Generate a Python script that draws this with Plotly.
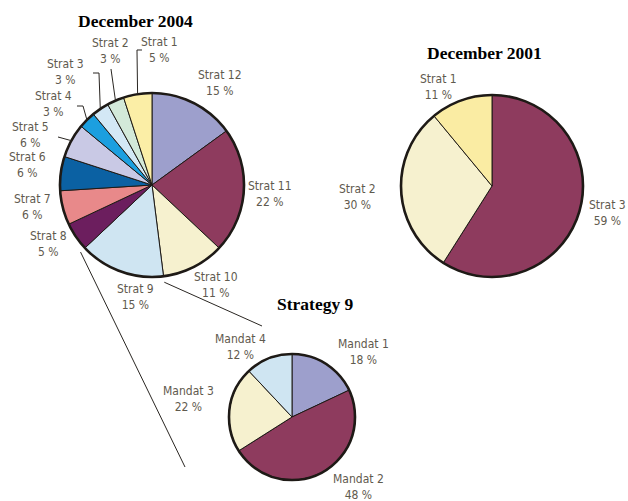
import math
import plotly.graph_objects as go

W, H = 628, 501

# ---- data -------------------------------------------------------------
strat_2004 = ["Strat 1", "Strat 2", "Strat 3", "Strat 4", "Strat 5", "Strat 6",
              "Strat 7", "Strat 8", "Strat 9", "Strat 10", "Strat 11", "Strat 12"]
share_2004 = [5, 3, 3, 3, 6, 6, 6, 5, 15, 11, 22, 15]

strat_2001 = ["Strat 1", "Strat 2", "Strat 3"]
share_2001 = [11, 30, 59]

mandates_s9 = ["Mandat 1", "Mandat 2", "Mandat 3", "Mandat 4"]
share_s9 = [18, 48, 22, 12]

# ---- styles -----------------------------------------------------------
colors_2004 = ["#fbeea6", "#d3e9d9", "#d3e8f5", "#1c9fdf", "#c9c9e5", "#0b61a3",
               "#e8898a", "#6c1e5e", "#cfe5f2", "#f6f1cf", "#8e3b5e", "#9d9fcc"]
colors_2001 = ["#faeca3", "#f6f1cf", "#8e3b5e"]
colors_s9 = ["#9d9fcc", "#8e3b5e", "#f6f1cf", "#cfe5f2"]

LABEL_FONT = dict(family="DejaVu Sans Condensed, Liberation Sans Narrow, Arial Narrow, sans-serif",
                  size=12, color="#5f5a4e")
TITLE_FONT = dict(family="Liberation Serif, Times New Roman, serif", size=17.5, color="#000000")
EDGE = "#1e1a16"
LINE_GAP = 13

# pie geometry in pixels: centre x, centre y, radius; "ccw" pies run
# counter-clockwise from 12 o'clock in list order
geom = {
    "2004": dict(cx=152, cy=185, r=92, ccw=True),
    "2001": dict(cx=492, cy=186, r=91, ccw=True),
    "s9": dict(cx=292, cy=417, r=63, ccw=False),
}

# label anchors (centre x, first-line y), in pixels
label_pos = {
    "2004": [(159, 43), (110, 45), (65, 66), (53, 97), (30, 128), (28, 159),
             (32, 201), (48, 237), (135, 290), (216, 278), (270, 188), (220, 76)],
    "2001": [(438, 80), (357, 190), (627, 206)],
    "s9": [(363, 345), (358, 480), (188, 392), (240, 340)],
}
label_anchor = {("2001", 2): "right"}

titles = [("December 2004", 135, 21), ("December 2001", 484, 53), ("Strategy 9", 315, 304)]

# elbow points of the leader lines for the small 2004 slices (index -> points)
leaders_2004 = {
    0: [(137, 50), (142, 50)],
    1: [(111, 69)],
    2: [(99, 73), (93, 73)],
    3: [(83, 106), (77, 106)],
    4: [(58, 137)],
}

# far ends of the two lines that link Strat 9 to its breakdown
zoom_ends = {"lead": (185, 467), "trail": (262, 326)}


def px(x):
    return x / W


def py(y):
    return 1 - y / H


def domain(g):
    return dict(x=[px(g["cx"] - g["r"]), px(g["cx"] + g["r"])],
                y=[py(g["cy"] + g["r"]), py(g["cy"] - g["r"])])


def slice_angles(values, idx, ccw):
    """Start/end angle of a slice, degrees clockwise from 12 o'clock."""
    total = sum(values)
    before = sum(values[:idx])
    sign = -1 if ccw else 1
    a0 = sign * 360.0 * before / total
    a1 = sign * 360.0 * (before + values[idx]) / total
    return a0, a1


def rim_point(g, theta_deg, extra=0.0):
    t = math.radians(theta_deg)
    rr = g["r"] + extra
    return g["cx"] + rr * math.sin(t), g["cy"] - rr * math.cos(t)


fig = go.Figure()

series = [
    ("2004", strat_2004, share_2004, colors_2004),
    ("2001", strat_2001, share_2001, colors_2001),
    ("s9", mandates_s9, share_s9, colors_s9),
]

for key, labels, values, colors in series:
    g = geom[key]
    # counter-clockwise pies are fed in reverse and drawn clockwise so the
    # first category sits just left of 12 o'clock
    order = list(reversed(range(len(values)))) if g["ccw"] else list(range(len(values)))
    fig.add_trace(go.Pie(
        labels=[labels[i] for i in order], values=[values[i] for i in order],
        sort=False, direction="clockwise", rotation=0, domain=domain(g),
        textinfo="none", hoverinfo="label+percent",
        marker=dict(colors=[colors[i] for i in order], line=dict(color=EDGE, width=1)),
        showlegend=False,
    ))
    # heavier outer rim
    fig.add_trace(go.Pie(
        labels=[" "], values=[1], domain=domain(g), textinfo="none", hoverinfo="skip",
        marker=dict(colors=["rgba(0,0,0,0)"], line=dict(color=EDGE, width=2.6)),
        showlegend=False,
    ))

annotations = []
for key, labels, values, _ in series:
    for i, ((lx, ly), name, v) in enumerate(zip(label_pos[key], labels, values)):
        annotations.append(dict(
            x=px(lx), y=py(ly + LINE_GAP / 2), text=f"{name}<br>{v} %",
            showarrow=False, xref="paper", yref="paper",
            xanchor=label_anchor.get((key, i), "center"), yanchor="middle",
            align="center", borderpad=0, font=LABEL_FONT))

for text, tx, ty in titles:
    annotations.append(dict(x=px(tx), y=py(ty), text=f"<b>{text}</b>", showarrow=False,
                            xref="paper", yref="paper", xanchor="center",
                            yanchor="middle", font=TITLE_FONT))

shapes = []


def path_shape(points, width=1.0, color="#2a2622"):
    d = "M " + " L ".join(f"{px(x):.5f},{py(y):.5f}" for x, y in points)
    return dict(type="path", path=d, xref="paper", yref="paper",
                line=dict(color=color, width=width))


g04 = geom["2004"]
for idx, pts in leaders_2004.items():
    a0, a1 = slice_angles(share_2004, idx, g04["ccw"])
    start = rim_point(g04, (a0 + a1) / 2)
    shapes.append(path_shape([start] + pts))

# Strat 9 -> Strategy 9 connectors, from both edges of the slice
i9 = strat_2004.index("Strat 9")
a0, a1 = slice_angles(share_2004, i9, g04["ccw"])
shapes.append(path_shape([rim_point(g04, a0, 6), zoom_ends["lead"]]))
shapes.append(path_shape([rim_point(g04, a1, 6), zoom_ends["trail"]]))

fig.update_layout(
    width=W, height=H,
    margin=dict(l=0, r=0, t=0, b=0),
    paper_bgcolor="white", plot_bgcolor="white",
    annotations=annotations, shapes=shapes,
)

fig.write_html("out.html")
